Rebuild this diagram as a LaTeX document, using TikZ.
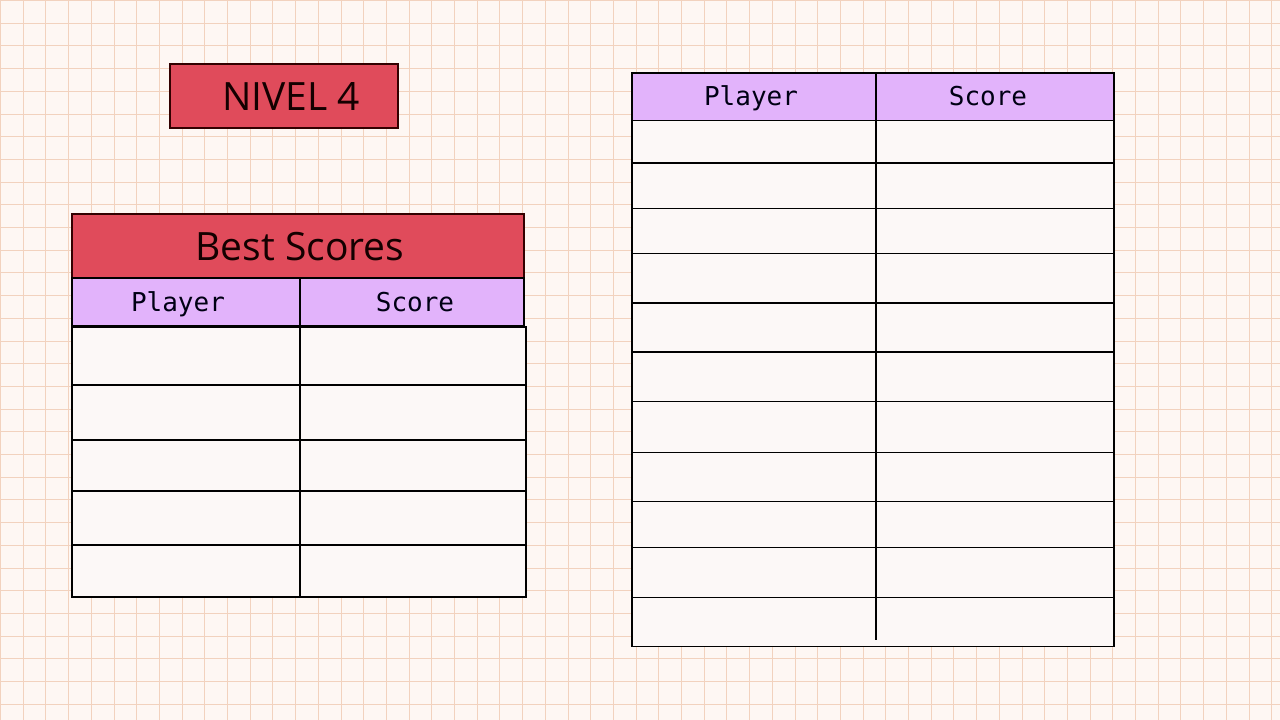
\documentclass[tikz,border=0pt]{standalone}
\usepackage{fontspec}
\setmainfont{Open Sans}
\newfontfamily\tablefont{DejaVu Sans Mono}

\definecolor{paper}{HTML}{FEF7F3}
\definecolor{gridpeach}{HTML}{F2D2BE}
\definecolor{titlered}{HTML}{E04B5B}
\definecolor{headpurple}{HTML}{E2B3FB}
\definecolor{cellwhite}{HTML}{FCF8F7}

\tikzset{
	gridline/.style={draw=gridpeach, line width=1pt},
	cell/.style={draw=black, line width=1.8pt},
	redbox/.style={fill=titlered, draw=black!80!red, line width=1.6pt},
	headbox/.style={fill=headpurple, draw=black, line width=1.8pt},
	rule/.style={draw=black, line width=1.8pt},
	title/.style={anchor=base, inner sep=0pt, font=\fontsize{39}{40}\selectfont, text=black!92!red},
	colname/.style={anchor=base, inner sep=0pt, font=\tablefont\fontsize{26}{28}\selectfont, text=black!92!blue}
}

\begin{document}
\begin{tikzpicture}[x=1pt, y=-1pt]
		% paper
		\useasboundingbox (0,0) rectangle (1280,720);
		\fill [paper] (0,0) rectangle (1280,720);
		\foreach \k in {0,...,56}
			\draw [gridline] (\k*22.7+0.5,0) -- (\k*22.7+0.5,720);
		\foreach \k in {0,...,31}
			\draw [gridline] (0,\k*22.7+0.5) -- (1280,\k*22.7+0.5);
		
		% level label
		\draw [redbox] (170,64) rectangle (398,128);
		\node [title] (nivel) at (291,110) {NIVEL 4};
		
		% best scores table
		\draw [redbox] (72,214) rectangle (524,278);
		\draw [headbox] (72,278) rectangle (524,326);
		\draw [rule] (300,278) -- (300,326);
		\fill [cellwhite] (72,327) rectangle (526,597);
		\draw [cell] (72,327) rectangle (526,385);
		\draw [cell] (72,385) rectangle (526,440);
		\draw [cell] (72,440) rectangle (526,491);
		\draw [cell] (72,491) rectangle (526,545);
		\draw [cell] (72,545) rectangle (526,597);
		\draw [rule] (300,327) -- (300,597);
		\node [title] (best) at (300,260) {Best Scores};
		\node [colname] (playerA) at (178,311.5) {Player};
		\node [colname] (scoreA) at (415,311.5) {Score};
		
		% second table
		\draw [headbox] (632,73) rectangle (1114,120.5);
		\draw [rule] (876,73) -- (876,120.5);
		\fill [cellwhite] (632,120.5) rectangle (1114,646.5);
		\draw [cell] (632,120.5) rectangle (1114,163);
		\draw [cell] (632,163) rectangle (1114,208.5);
		\draw [cell] (632,208.5) rectangle (1114,253.5);
		\draw [cell] (632,253.5) rectangle (1114,303);
		\draw [cell] (632,303) rectangle (1114,352);
		\draw [cell] (632,352) rectangle (1114,401.5);
		\draw [cell] (632,401.5) rectangle (1114,452.5);
		\draw [cell] (632,452.5) rectangle (1114,501.5);
		\draw [cell] (632,501.5) rectangle (1114,547.5);
		\draw [cell] (632,547.5) rectangle (1114,597.5);
		\draw [cell] (632,597.5) rectangle (1114,646.5);
		\draw [rule] (876,120.5) -- (876,640);
		\node [colname] (playerB) at (751,105) {Player};
		\node [colname] (scoreB) at (988,105) {Score};
		
\end{tikzpicture}
\end{document}
